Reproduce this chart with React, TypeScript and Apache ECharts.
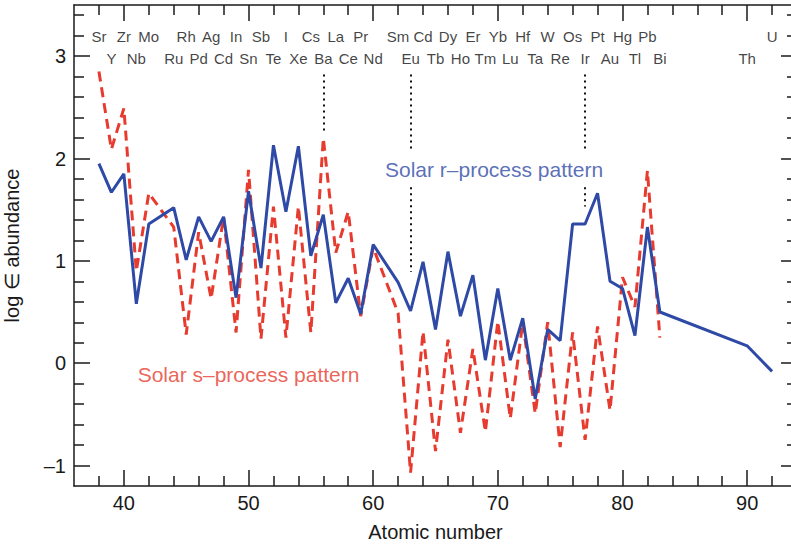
import React, { useEffect, useRef } from "react";
import * as echarts from "echarts";

// ---- data ----
const rZ = [38, 39, 40, 41, 42, 44, 45, 46, 47, 48, 49, 50, 51, 52, 53, 54, 55, 56, 57, 58, 59, 60, 62, 63, 64, 65, 66, 67, 68, 69, 70, 71, 72, 73, 74, 75, 76, 77, 78, 79, 80, 81, 82, 83, 90, 92];
const rVals = [1.95, 1.67, 1.85, 0.58, 1.36, 1.52, 1.01, 1.43, 1.19, 1.43, 0.64, 1.68, 0.93, 2.13, 1.48, 2.12, 1.05, 1.45, 0.59, 0.83, 0.48, 1.16, 0.79, 0.51, 0.99, 0.33, 1.09, 0.46, 0.86, 0.03, 0.73, 0.03, 0.44, -0.35, 0.33, 0.22, 1.36, 1.36, 1.66, 0.8, 0.73, 0.27, 1.33, 0.5, 0.17, -0.08];

const sZ = [38, 39, 40, 41, 42, 44, 45, 46, 47, 48, 49, 50, 51, 52, 53, 54, 55, 56, 57, 58, 59, 60, 62, 63, 64, 65, 66, 67, 68, 69, 70, 71, 72, 73, 74, 75, 76, 77, 78, 79, 80, 81, 82, 83];
const sVals = [2.85, 2.09, 2.49, 0.9, 1.66, 1.33, 0.28, 1.28, 0.63, 1.43, 0.3, 1.89, 0.24, 1.53, 0.25, 1.53, 0.3, 2.2, 1.08, 1.48, 0.46, 1.13, 0.49, -1.07, 0.31, -0.86, 0.23, -0.68, 0.14, -0.67, 0.41, -0.54, 0.4, -0.49, 0.4, -0.82, 0.3, -0.75, 0.36, -0.46, 0.84, 0.55, 1.88, 0.25];

const elemRow1 = ["Sr", "Zr", "Mo", "Rh", "Ag", "In", "Sb", "I", "Cs", "La", "Pr", "Sm", "Cd", "Dy", "Er", "Yb", "Hf", "W", "Os", "Pt", "Hg", "Pb", "U"];
const elemRow1Z = [38, 40, 42, 45, 47, 49, 51, 53, 55, 57, 59, 62, 64, 66, 68, 70, 72, 74, 76, 78, 80, 82, 92];
const elemRow2 = ["Y", "Nb", "Ru", "Pd", "Cd", "Sn", "Te", "Xe", "Ba", "Ce", "Nd", "Eu", "Tb", "Ho", "Tm", "Lu", "Ta", "Re", "Ir", "Au", "Tl", "Bi", "Th"];
const elemRow2Z = [39, 41, 44, 46, 48, 50, 52, 54, 56, 58, 60, 63, 65, 67, 69, 71, 73, 75, 77, 79, 81, 83, 90];
const elemRowY = [3.19, 2.98];

// dotted marker segments: [Z, yFrom, yTo]
const markerSegments = [
  [56, 2.82, 2.27],
  [63, 2.82, 2.07],
  [63, 1.72, 0.89],
  [77, 2.82, 2.07],
  [77, 1.72, 1.53],
];

const annotations = [
  { text: "Solar r–process pattern", z: 69.7, y: 1.89, color: "#2f4aa6" },
  { text: "Solar s–process pattern", z: 50.0, y: -0.11, color: "#e63b2e" },
];

const xMajor = [40, 50, 60, 70, 80, 90];
const xMinor = [38, 42, 44, 46, 48, 52, 54, 56, 58, 62, 64, 66, 68, 72, 74, 76, 78, 82, 84, 86, 88, 92];
const yMajor = [-1, 0, 1, 2, 3];
const yMinor = [-0.8, -0.6, -0.4, -0.2, 0.2, 0.4, 0.6, 0.8, 1.2, 1.4, 1.6, 1.8, 2.2, 2.4, 2.6, 2.8, 3.2, 3.4];

const X_MIN = 36;
const X_MAX = 94;
const Y_MIN = -1.2;
const Y_MAX = 3.5;

const FONT = "'Liberation Sans', Arial, Helvetica, sans-serif";
const AXIS_COLOR = "#1a1a1a";
const BLUE = "#2f4aa6";
const RED = "#e63b2e";

function xAxisDef(position: "top" | "bottom", ticks: number[], len: number, main: boolean) {
  return {
    type: "value",
    position,
    min: X_MIN,
    max: X_MAX,
    axisLine: { show: main, onZero: false, lineStyle: { color: AXIS_COLOR, width: 1.5 } },
    axisTick: { show: true, inside: true, length: len, customValues: ticks, lineStyle: { color: AXIS_COLOR, width: 1.5 } },
    axisLabel: {
      show: main && position === "bottom",
      customValues: xMajor,
      fontSize: 20,
      color: AXIS_COLOR,
      fontFamily: FONT,
      margin: 7,
    },
    splitLine: { show: false },
    name: main && position === "bottom" ? "Atomic number" : "",
    nameLocation: "middle",
    nameGap: 36,
    nameTextStyle: { fontSize: 20, color: AXIS_COLOR, fontFamily: FONT },
  };
}

function yAxisDef(position: "left" | "right", ticks: number[], len: number, main: boolean) {
  return {
    type: "value",
    position,
    min: Y_MIN,
    max: Y_MAX,
    axisLine: { show: main, onZero: false, lineStyle: { color: AXIS_COLOR, width: 1.5 } },
    axisTick: { show: true, inside: true, length: len, customValues: ticks, lineStyle: { color: AXIS_COLOR, width: 1.5 } },
    axisLabel: {
      show: main && position === "left",
      customValues: yMajor,
      fontSize: 20,
      color: AXIS_COLOR,
      fontFamily: FONT,
      margin: 8,
      formatter: (v: number) => (v < 0 ? "–" + Math.abs(v) : String(v)),
    },
    splitLine: { show: false },
    name: main && position === "left" ? "log ∈ abundance" : "",
    nameLocation: "middle",
    nameGap: 52,
    nameTextStyle: { fontSize: 20, color: AXIS_COLOR, fontFamily: FONT },
  };
}

export default function App() {
  const ref = useRef<HTMLDivElement>(null);

  useEffect(() => {
    if (!ref.current) return;
    const chart = echarts.init(ref.current, null, { renderer: "svg" });

    const elemData = [
      ...elemRow1.map((n, i) => ({ name: n, value: [elemRow1Z[i], elemRowY[0]] })),
      ...elemRow2.map((n, i) => ({ name: n, value: [elemRow2Z[i], elemRowY[1]] })),
    ];

    const option: any = {
      animation: false,
      backgroundColor: "#ffffff",
      grid: { left: 74, right: 13, top: 5, bottom: 61, containLabel: false, outerBoundsMode: "none" },
      xAxis: [
        xAxisDef("bottom", xMajor, 16, true),
        xAxisDef("bottom", xMinor, 10, false),
        xAxisDef("top", xMajor, 16, true),
        xAxisDef("top", xMinor, 10, false),
      ],
      yAxis: [
        yAxisDef("left", yMajor, 16, true),
        yAxisDef("left", yMinor, 10, false),
        yAxisDef("right", yMajor, 16, true),
        yAxisDef("right", yMinor, 10, false),
      ],
      series: [
        {
          name: "s-process",
          type: "line",
          xAxisIndex: 0,
          yAxisIndex: 0,
          data: sZ.map((z, i) => [z, sVals[i]]),
          symbol: "none",
          lineStyle: { color: RED, width: 3, type: [10, 6] },
          z: 3,
        },
        {
          name: "r-process",
          type: "line",
          xAxisIndex: 0,
          yAxisIndex: 0,
          data: rZ.map((z, i) => [z, rVals[i]]),
          symbol: "none",
          lineStyle: { color: BLUE, width: 3 },
          z: 4,
          markLine: {
            silent: true,
            symbol: ["none", "none"],
            label: { show: false },
            lineStyle: { color: "#111", width: 2, type: [2, 4] },
            data: markerSegments.map((s) => [{ coord: [s[0], s[1]] }, { coord: [s[0], s[2]] }]),
          },
        },
        {
          name: "elements",
          type: "scatter",
          xAxisIndex: 0,
          yAxisIndex: 0,
          symbolSize: 0.1,
          silent: true,
          data: elemData,
          label: {
            show: true,
            position: "inside",
            formatter: (p: any) => p.name,
            fontSize: 15,
            color: "#111",
            fontFamily: FONT,
          },
        },
        {
          name: "annotations",
          type: "scatter",
          xAxisIndex: 0,
          yAxisIndex: 0,
          symbolSize: 0.1,
          silent: true,
          data: annotations.map((a) => ({
            name: a.text,
            value: [a.z, a.y],
            label: { color: a.color },
          })),
          label: {
            show: true,
            position: "inside",
            formatter: (p: any) => p.name,
            fontSize: 21,
            fontFamily: FONT,
          },
        },
      ],
    };

    chart.setOption(option);
    return () => chart.dispose();
  }, []);

  return (
    <div style={{ position: "absolute", left: 0, top: 0, width: 791, height: 547, overflow: "hidden", background: "#fff" }}>
      <div ref={ref} style={{ width: 810, height: 547 }} />
    </div>
  );
}
